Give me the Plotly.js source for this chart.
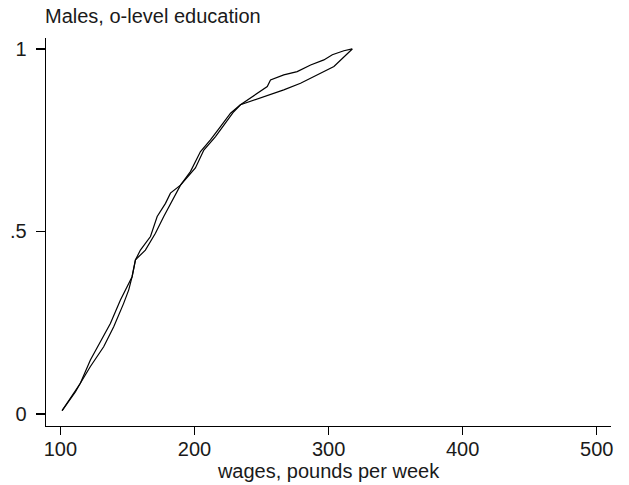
<!DOCTYPE html>
<html>
<head>
<meta charset="utf-8">
<script src="https://cdn.plot.ly/plotly-3.0.1.min.js"></script>
<style>html,body{margin:0;padding:0;background:#fff;}#chart{width:629px;height:485px;}</style>
</head>
<body>
<div id="chart"></div>
<script>
// Curve A (upper / left empirical distribution)
const wagesA = [101.3, 107.5, 114.9, 122.4, 132.3, 137.3, 144.8, 149.8, 153.5, 156.0, 159.7, 167.2, 172.2, 178.4, 182.1, 189.6, 197.0, 204.5, 211.9, 219.4, 226.9, 234.3, 243.1, 246.8, 254.3, 256.7, 266.6, 276.6, 286.6, 296.5, 302.8, 311.4, 317.7];
const cumA   = [0.009, 0.044, 0.084, 0.148, 0.212, 0.248, 0.312, 0.349, 0.376, 0.422, 0.449, 0.486, 0.541, 0.577, 0.605, 0.627, 0.664, 0.719, 0.751, 0.787, 0.824, 0.847, 0.869, 0.879, 0.897, 0.915, 0.929, 0.938, 0.956, 0.970, 0.984, 0.995, 1.000];
// Curve B (lower / right empirical distribution)
const wagesB = [101.3, 104.5, 111.2, 114.9, 122.4, 132.3, 139.8, 147.2, 151.0, 153.5, 156.0, 163.4, 170.9, 177.1, 183.4, 189.6, 200.7, 207.0, 215.7, 223.1, 229.3, 234.3, 243.1, 250.5, 256.7, 266.6, 279.1, 291.6, 304.0, 317.7];
const cumB   = [0.009, 0.025, 0.060, 0.084, 0.130, 0.184, 0.239, 0.303, 0.340, 0.376, 0.422, 0.449, 0.495, 0.541, 0.586, 0.627, 0.674, 0.723, 0.760, 0.796, 0.828, 0.847, 0.858, 0.869, 0.877, 0.888, 0.906, 0.929, 0.952, 1.000];

const xTickVals = [100, 200, 300, 400, 500];
const xTickText = ['100', '200', '300', '400', '500'];
const yTickVals = [0, 0.5, 1];
const yTickText = ['0', '.5', '1'];

const lineStyle = {color: '#000000', width: 1.2};
const traces = [
  {x: wagesA, y: cumA, type: 'scatter', mode: 'lines', line: lineStyle, name: 'A', showlegend: false, hoverinfo: 'x+y'},
  {x: wagesB, y: cumB, type: 'scatter', mode: 'lines', line: lineStyle, name: 'B', showlegend: false, hoverinfo: 'x+y'}
];

const tickFont = {family: '"Liberation Sans", Arial, sans-serif', size: 20, color: '#1a1a1a'};
const titleFont = {family: '"Liberation Sans", Arial, sans-serif', size: 20, color: '#1a1a1a'};

const layout = {
  width: 629,
  height: 485,
  paper_bgcolor: '#ffffff',
  plot_bgcolor: '#ffffff',
  margin: {l: 46, r: 18, t: 38, b: 59, pad: 0},
  showlegend: false,
  title: {
    text: 'Males, o-level education',
    font: titleFont,
    x: 45 / 629, xref: 'container', xanchor: 'left',
    y: 1 - 9 / 485, yref: 'container', yanchor: 'top'
  },
  xaxis: {
    range: [89.3, 510.6],
    tickvals: xTickVals,
    ticktext: xTickText,
    ticks: 'outside',
    ticklen: 8,
    tickwidth: 1.3,
    tickcolor: '#000',
    showline: true,
    linecolor: '#000',
    linewidth: 1.3,
    mirror: false,
    showgrid: false,
    zeroline: false,
    tickfont: tickFont,
    ticklabelstandoff: -3,
    automargin: false,
    title: {text: 'wages, pounds per week', font: titleFont, standoff: 0}
  },
  yaxis: {
    range: [-0.033, 1.030],
    tickvals: yTickVals,
    ticktext: yTickText,
    ticks: 'outside',
    ticklen: 9,
    tickwidth: 1.3,
    tickcolor: '#000',
    showline: true,
    linecolor: '#000',
    linewidth: 1.3,
    mirror: false,
    showgrid: false,
    zeroline: false,
    tickfont: tickFont,
    ticklabelstandoff: 5,
    automargin: false
  }
};

Plotly.newPlot('chart', traces, layout, {displayModeBar: false, staticPlot: true});
</script>
</body>
</html>
